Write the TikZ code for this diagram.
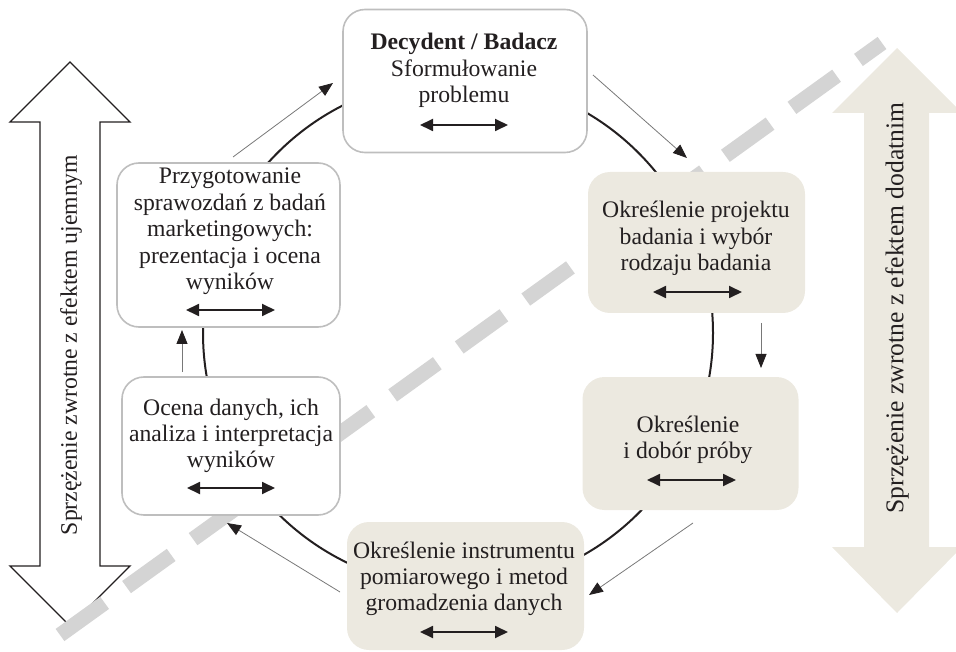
\documentclass[tikz,border=0pt]{standalone}
\usepackage{fontspec}
\setmainfont{Liberation Serif}
\usetikzlibrary{arrows.meta}
\definecolor{boxgray}{RGB}{190,190,190}
\definecolor{beige}{RGB}{236,233,224}
\definecolor{dashgray}{RGB}{212,212,212}
\definecolor{linkgray}{RGB}{120,120,120}
\definecolor{ink}{RGB}{35,31,32}
% multi-line text whose baseline is the first line
\newcommand{\boxtext}[1]{\begin{tabular}[t]{@{}c@{}}#1\end{tabular}}
\begin{document}
\begin{tikzpicture}[x=1pt,y=-1pt,
  every node/.style={inner sep=0pt,outer sep=0pt},
  stage/.style={rounded corners=22pt,line width=1.6pt},
  whitestage/.style={stage,draw=boxgray,fill=white},
  beigestage/.style={stage,fill=beige},
  txt/.style={anchor=base,text=ink,font=\fontsize{23.7}{26.4}\selectfont},
  sidetxt/.style={text=ink,rotate=90,font=\fontsize{23.7}{26.4}\selectfont},
  inner/.style={line width=1.8pt,ink,{Triangle[length=13pt,width=12pt]}-{Triangle[length=13pt,width=12pt]}},
  link/.style={line width=0.8pt,linkgray,-{Triangle[length=14pt,width=11pt,color=ink]}},
  cycle line/.style={line width=2pt,ink},
  dashline/.style={line width=15pt,dashgray,dash pattern=on 55pt off 27pt},
  bigarrow/.style={line width=1.4pt,draw=ink,fill=white,line join=miter}
]
\useasboundingbox (0,0) rectangle (956,652);

% negative feedback arrow (left)
\path[bigarrow] (70,62) -- (130,122) -- (100,122) -- (100,566) -- (130,566)
  -- (70,626) -- (10,566) -- (40,566) -- (40,122) -- (10,122) -- cycle;
\node[sidetxt] (negT) at (71,345) {Sprzężenie zwrotne z efektem ujemnym};

% diagonal dashed divider
\coordinate (dA) at (60,635);
\coordinate (dB) at (882,43);
\draw[dashline] (dA) -- (dB);

% positive feedback arrow (right)
\fill[beige] (897,48) -- (962,113) -- (929,113) -- (929,547) -- (962,547)
  -- (897,613) -- (832,547) -- (864,547) -- (864,113) -- (832,113) -- cycle;
\node[sidetxt,font=\fontsize{25.6}{28}\selectfont] (posT) at (897,308) {Sprzężenie zwrotne z efektem dodatnim};

% research cycle
\draw[cycle line] (458,333) circle[radius=255];

% stages
\node[whitestage,minimum width=244pt,minimum height=143pt] (s1) at (465,81) {};
\node[beigestage,minimum width=217pt,minimum height=141pt] (s2) at (696.5,242.5) {};
\node[beigestage,minimum width=216pt,minimum height=133pt] (s3) at (690.5,443.5) {};
\node[beigestage,minimum width=237pt,minimum height=128pt] (s4) at (465.5,586) {};
\node[whitestage,minimum width=218pt,minimum height=138pt] (s5) at (231,446) {};
\node[whitestage,minimum width=223pt,minimum height=164pt] (s6) at (228.5,245) {};

\node[txt] (t1) at (464,50) {\boxtext{\textbf{Decydent / Badacz}\\Sformułowanie\\problemu}};
\node[txt] (t2) at (696,218) {\boxtext{Określenie projektu\\badania i wybór\\rodzaju badania}};
\node[txt] (t3) at (688,432) {\boxtext{Określenie\\i dobór próby}};
\node[txt] (t4) at (464,558) {\boxtext{Określenie instrumentu\\pomiarowego i metod\\gromadzenia danych}};
\node[txt] (t5) at (231,415) {\boxtext{Ocena danych, ich\\analiza i interpretacja\\wyników}};
\node[txt] (t6) at (230,184) {\boxtext{Przygotowanie\\sprawozdań z badań\\marketingowych:\\prezentacja i ocena\\wyników}};

% two-way arrows inside the stages
\draw[inner] (420,125) -- (508,125);
\draw[inner] (653,292) -- (742,292);
\draw[inner] (647,480) -- (736,480);
\draw[inner] (420,632) -- (508,632);
\draw[inner] (187,488) -- (275,488);
\draw[inner] (186,310) -- (275,310);

% flow between the stages
\coordinate (a1s) at (593,75);   \coordinate (a1e) at (687,158);
\coordinate (a2s) at (761,323);  \coordinate (a2e) at (761,368);
\coordinate (a3s) at (693,523);  \coordinate (a3e) at (589,595);
\coordinate (a4s) at (340,592);  \coordinate (a4e) at (227,523);
\coordinate (a5s) at (182,372);  \coordinate (a5e) at (182,330);
\coordinate (a6s) at (233,157);  \coordinate (a6e) at (333,83);
\draw[link] (a1s) -- (a1e);
\draw[link] (a2s) -- (a2e);
\draw[link] (a3s) -- (a3e);
\draw[link] (a4s) -- (a4e);
\draw[link] (a5s) -- (a5e);
\draw[link] (a6s) -- (a6e);
\end{tikzpicture}
\end{document}
